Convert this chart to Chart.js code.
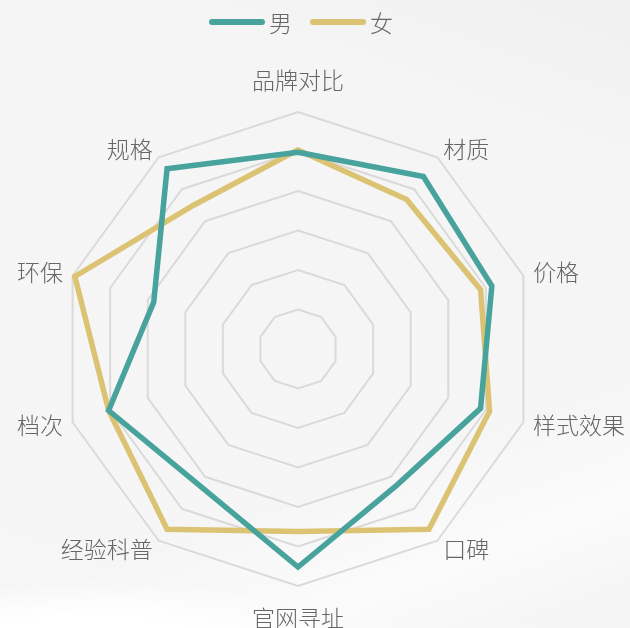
<!DOCTYPE html>
<html>
<head>
<meta charset="utf-8">
<script src="https://cdn.jsdelivr.net/npm/chart.js@4.4.1/dist/chart.umd.min.js"></script>
<style>
  html, body { margin: 0; padding: 0; }
  body {
    width: 630px; height: 628px; overflow: hidden;
    background:
      radial-gradient(ellipse 260px 60px at 90px 640px, #ffffff 40%, rgba(255,255,255,0) 100%),
      linear-gradient(160deg, rgba(255,255,255,0) 70%, rgba(255,255,255,0.6) 85%, rgba(255,255,255,0) 95%),
      linear-gradient(200deg, #f0f0f0 0%, #f5f5f5 20%, #f6f6f6 100%);
  }
  #wrap { position: relative; width: 630px; height: 628px; }
</style>
</head>
<body>
<div id="wrap"><canvas id="c"></canvas></div>
<script>
const categories = ['品牌对比', '材质', '价格', '样式效果', '口碑', '官网寻址', '经验科普', '档次', '环保', '规格'];
const seriesNames = ['男', '女'];
const maleValues = [83, 90, 86, 81, 71, 92, 71, 84, 64, 94];
const femaleValues = [84, 78, 81, 85, 94, 77, 94, 84, 99, 75];
const scaleMax = 100;
const ringCount = 6;

const FONT = '"Noto Sans CJK SC", "Noto Sans", sans-serif';
const colors = ['#47a39c', '#dcc374'];

const legendPlugin = {
  id: 'customLegend',
  afterDraw(chart) {
    const ctx = chart.ctx;
    const ds = chart.data.datasets;
    ctx.save();
    ctx.font = '300 23px ' + FONT;
    ctx.textBaseline = 'middle';
    const lineLen = 56, gap = 4, itemGap = 18;
    const widths = ds.map(d => lineLen + gap + ctx.measureText(d.label).width);
    const total = widths.reduce((a, b) => a + b, 0) + itemGap * (ds.length - 1);
    const cx = chart.scales.r.xCenter + 3;
    let x = cx - total / 2;
    const y = 22;
    ds.forEach((d, i) => {
      ctx.strokeStyle = d.borderColor;
      ctx.lineWidth = 6;
      ctx.lineCap = 'round';
      ctx.beginPath();
      ctx.moveTo(x + 3, y);
      ctx.lineTo(x + lineLen - 3, y);
      ctx.stroke();
      ctx.fillStyle = '#666666';
      ctx.textAlign = 'left';
      ctx.fillText(d.label, x + lineLen + gap, y + 1);
      x += widths[i] + itemGap;
    });
    ctx.restore();
  }
};

const pointLabelPlugin = {
  id: 'axisNames',
  afterDraw(chart) {
    const s = chart.scales.r;
    const ctx = chart.ctx;
    ctx.save();
    ctx.font = '300 23px ' + FONT;
    ctx.fillStyle = '#666666';
    ctx.textBaseline = 'middle';
    chart.data.labels.forEach((lab, i) => {
      const probe = s.getPointPosition(i, s.drawingArea);
      const dx = probe.x - s.xCenter;
      let p;
      if (Math.abs(dx) < 1) {
        p = s.getPointPosition(i, s.drawingArea + 32);
        ctx.textAlign = 'center';
      } else {
        p = s.getPointPosition(i, s.drawingArea + 10);
        ctx.textAlign = dx > 0 ? 'left' : 'right';
      }
      ctx.fillText(lab, p.x, p.y);
    });
    ctx.restore();
  }
};

new Chart(document.getElementById('c'), {
  type: 'radar',
  data: {
    labels: categories,
    datasets: [
      { label: seriesNames[0], data: maleValues, borderColor: colors[0], backgroundColor: 'transparent' },
      { label: seriesNames[1], data: femaleValues, borderColor: colors[1], backgroundColor: 'transparent' }
    ]
  },
  options: {
    responsive: true,
    maintainAspectRatio: false,
    animation: false,
    devicePixelRatio: 1,
    layout: { padding: { top: 112, left: 61, right: 95, bottom: 42 } },
    elements: {
      line: { borderWidth: 5.5, tension: 0, fill: false, borderJoinStyle: 'miter', borderCapStyle: 'butt' },
      point: { radius: 0, hoverRadius: 0 }
    },
    plugins: {
      legend: { display: false },
      tooltip: { enabled: false }
    },
    scales: {
      r: {
        min: 0,
        max: scaleMax,
        ticks: { display: false, count: ringCount + 1 },
        grid: { circular: false, color: '#dadada', lineWidth: 2 },
        angleLines: { display: false },
        pointLabels: { display: false }
      }
    }
  },
  plugins: [legendPlugin, pointLabelPlugin]
});
</script>
</body>
</html>
